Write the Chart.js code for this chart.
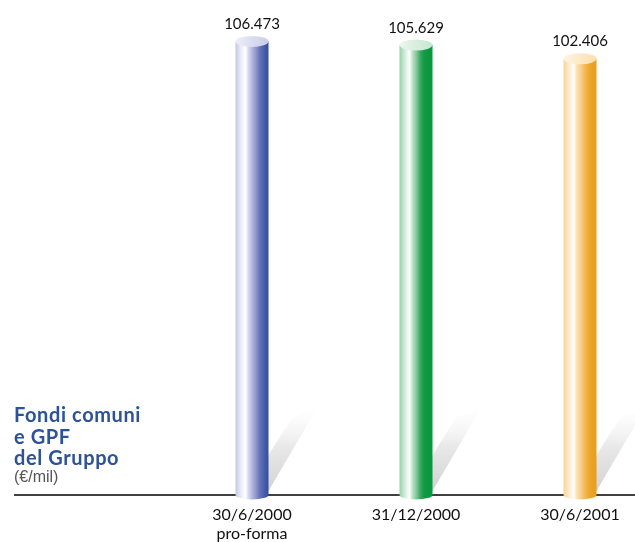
<!DOCTYPE html>
<html lang="it">
<head>
<meta charset="UTF-8">
<title>Fondi comuni e GPF del Gruppo</title>
<script src="https://cdn.jsdelivr.net/npm/chart.js"></script>
<style>
  html, body { margin: 0; padding: 0; background: #fff; }
</style>
</head>
<body>
<canvas id="fondiChart" width="635" height="542"></canvas>
<script>
// periodi e consistenze (€/mil)
const periods = [['30/6/2000', 'pro-forma'], ['31/12/2000'], ['30/6/2001']];
const fondi = [106473, 105629, 102406];
const titleLines = ['Fondi comuni', 'e GPF', 'del Gruppo'];
const unitLabel = '(€/mil)';

// colori dei cilindri: fusto (da sinistra a destra) e coperchio
const palettes = [
  { body: ['#c2c6e6', '#e6e7f5', '#ffffff', '#d3d6ee', '#adb3db', '#8c93c9', '#6672b7', '#4a5fac', '#2f4fa0'], cap: ['#eceef8', '#c9cde9'] },
  { body: ['#98d0a8', '#cbe8d3', '#ffffff', '#b9dfc3', '#7ec596', '#3aa860', '#129b45', '#0b9940', '#08973e'], cap: ['#eaf6ee', '#c6e6d0'] },
  { body: ['#f6d59c', '#fce6c2', '#ffffff', '#fde2b2', '#f8d08a', '#f3bd5b', '#efac35', '#eba124', '#e99d1b'], cap: ['#fff4e2', '#fbdfae'] }
];

const fmt = n => n.toString().replace(/\B(?=(\d{3})+(?!\d))/g, '.');

const cylinders = {
  id: 'cylinders',
  beforeDatasetsDraw(chart) {
    const { ctx } = chart;
    const base = chart.scales.y.getPixelForValue(0);
    // linea di base
    ctx.save();
    ctx.strokeStyle = '#000';
    ctx.lineWidth = 1.4;
    ctx.beginPath();
    ctx.moveTo(14, base);
    ctx.lineTo(chart.width, base);
    ctx.stroke();
    // ombre oblique
    chart.getDatasetMeta(0).data.forEach(el => {
      const r = el.width / 2;
      const g = ctx.createLinearGradient(0, el.base, 0, el.base - 88);
      g.addColorStop(0, 'rgba(175,175,175,0.6)');
      g.addColorStop(0.55, 'rgba(205,205,205,0.45)');
      g.addColorStop(1, 'rgba(240,240,240,0)');
      ctx.fillStyle = g;
      ctx.beginPath();
      ctx.moveTo(el.x - 2, el.base);
      ctx.lineTo(el.x + r, el.base - 4);
      ctx.lineTo(el.x + r + 48, el.base - 86);
      ctx.lineTo(el.x + r + 24, el.base - 78);
      ctx.lineTo(el.x + r, el.base - 40);
      ctx.closePath();
      ctx.fill();
    });
    ctx.restore();
  },
  afterDatasetsDraw(chart) {
    const { ctx } = chart;
    const ry = 5.5;
    chart.getDatasetMeta(0).data.forEach((el, i) => {
      const r = el.width / 2;
      const pal = palettes[i];
      const g = ctx.createLinearGradient(el.x - r, 0, el.x + r, 0);
      const stops = [0, 0.14, 0.3, 0.4, 0.52, 0.63, 0.74, 0.86, 1];
      pal.body.forEach((c, k) => g.addColorStop(stops[k], c));
      ctx.save();
      ctx.fillStyle = g;
      ctx.beginPath();
      ctx.moveTo(el.x - r, el.y);
      ctx.lineTo(el.x - r, el.base);
      ctx.ellipse(el.x, el.base, r, ry * 0.8, 0, Math.PI, 0, true);
      ctx.lineTo(el.x + r, el.y);
      ctx.closePath();
      ctx.fill();
      // coperchio
      const cg = ctx.createLinearGradient(el.x - r, 0, el.x + r, 0);
      cg.addColorStop(0, pal.cap[0]);
      cg.addColorStop(1, pal.cap[1]);
      ctx.fillStyle = cg;
      ctx.beginPath();
      ctx.ellipse(el.x, el.y, r, ry, 0, 0, Math.PI * 2);
      ctx.fill();
      // valore
      ctx.fillStyle = '#111';
      ctx.font = '15px Lato';
      ctx.textAlign = 'center';
      ctx.textBaseline = 'alphabetic';
      ctx.fillText(fmt(fondi[i]), el.x, el.y - ry - 7);
      ctx.restore();
    });
  },
  afterDraw(chart) {
    const { ctx } = chart;
    ctx.save();
    ctx.textAlign = 'left';
    ctx.textBaseline = 'alphabetic';
    ctx.fillStyle = '#2c5299';
    ctx.font = 'bold 20px Lato';
    ctx.letterSpacing = '0.6px';
    titleLines.forEach((t, k) => ctx.fillText(t, 14, 422 + k * 21.5));
    ctx.letterSpacing = '0px';
    ctx.fillStyle = '#555';
    ctx.font = '16px "Liberation Sans"';
    ctx.fillText(unitLabel, 14, 482);
    ctx.restore();
  }
};

new Chart(document.getElementById('fondiChart'), {
  type: 'bar',
  data: {
    labels: periods,
    datasets: [{
      data: fondi,
      backgroundColor: 'transparent',
      barThickness: 33,
      clip: false
    }]
  },
  options: {
    responsive: false,
    animation: false,
    layout: { padding: { left: 252, right: 55, top: 0, bottom: 0 } },
    plugins: { legend: { display: false }, tooltip: { enabled: false } },
    scales: {
      x: {
        offset: false,
        grid: { display: false, drawTicks: false },
        border: { display: false },
        ticks: { color: '#111', padding: 11, font: { family: 'Lato', size: 16, lineHeight: 1.15 } },
        afterFit: s => { s.height = 47; }
      },
      y: { display: false, min: 0, max: 116200 }
    }
  },
  plugins: [cylinders]
});
</script>
</body>
</html>
